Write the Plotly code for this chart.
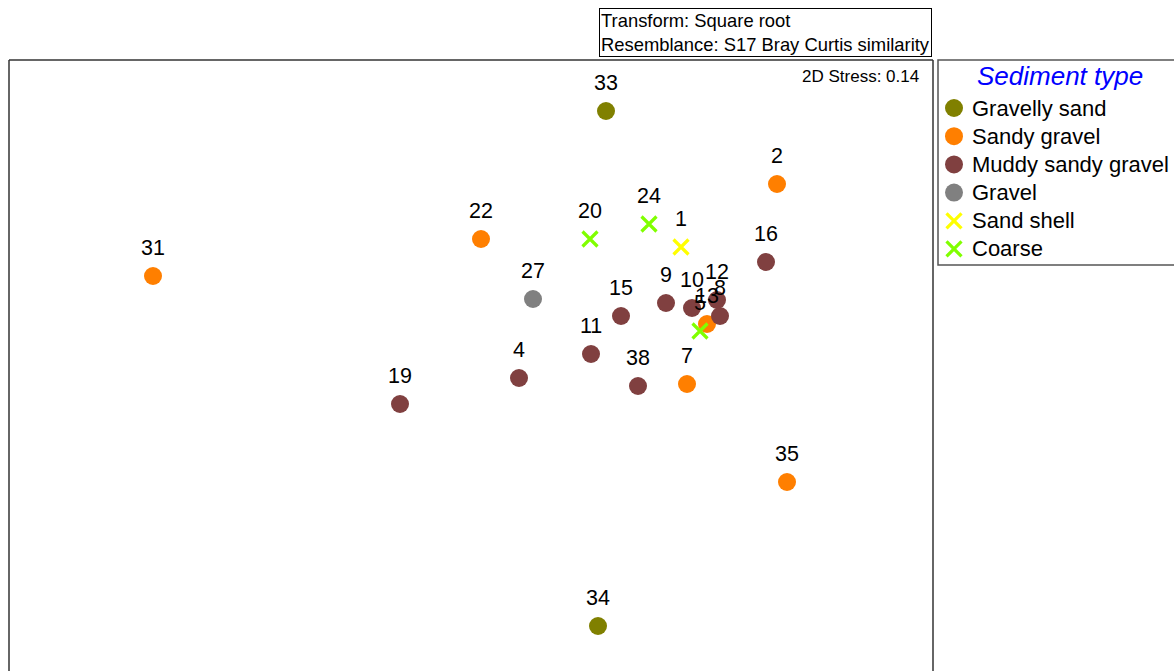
import plotly.graph_objects as go

# nMDS ordination coordinates (arbitrary MDS units) for each station
station_ids = ["33", "34", "2", "22", "31", "7", "35", "13", "16", "9", "10", "12", "8",
               "15", "11", "38", "4", "19", "27", "1", "20", "24", "5"]
mds_x = [1.35, 1.27, 3.06, 0.10, -3.18, 2.16, 3.16, 2.36, 2.95, 1.95, 2.21, 2.46, 2.49,
         1.50, 1.20, 1.67, 0.48, -0.71, 0.62, 2.10, 1.19, 1.78, 2.29]
mds_y = [2.49, -2.66, 1.76, 1.21, 0.84, -0.24, -1.22, 0.36, 0.98, 0.57, 0.52, 0.60, 0.44,
         0.44, 0.06, -0.26, -0.18, -0.44, 0.61, 1.13, 1.21, 1.36, 0.29]
sediment = ["Gravelly sand", "Gravelly sand",
            "Sandy gravel", "Sandy gravel", "Sandy gravel", "Sandy gravel", "Sandy gravel", "Sandy gravel",
            "Muddy sandy gravel", "Muddy sandy gravel", "Muddy sandy gravel", "Muddy sandy gravel",
            "Muddy sandy gravel", "Muddy sandy gravel", "Muddy sandy gravel", "Muddy sandy gravel",
            "Muddy sandy gravel", "Muddy sandy gravel",
            "Gravel", "Sand shell", "Coarse", "Coarse", "Coarse"]

sediment_types = ["Gravelly sand", "Sandy gravel", "Muddy sandy gravel", "Gravel", "Sand shell", "Coarse"]
type_colors = ["#808000", "#FF7F00", "#804040", "#808080", "#FFFF00", "#80FF00"]
type_symbols = ["circle", "circle", "circle", "circle", "x-thin", "x-thin"]

legend_title = "Sediment type"
stress_text = "2D Stress: 0.14"
header_text = "Transform: Square root<br>Resemblance: S17 Bray Curtis similarity"

FONT = "Liberation Sans, Arial"


def marker_style(color, symbol):
    if symbol == "circle":
        return dict(symbol="circle", size=18, color=color, line=dict(width=0))
    return dict(symbol="x-thin", size=15, color=color, line=dict(width=3.2, color=color))


fig = go.Figure()

for name, color, symbol in zip(sediment_types, type_colors, type_symbols):
    idx = [i for i, s in enumerate(sediment) if s == name]
    fig.add_trace(go.Scatter(
        x=[mds_x[i] for i in idx],
        y=[mds_y[i] for i in idx],
        mode="markers",
        name=name,
        marker=marker_style(color, symbol),
        hoverinfo="skip",
        showlegend=False,
    ))

# station labels above each point
for sid, xv, yv in zip(station_ids, mds_x, mds_y):
    fig.add_annotation(x=xv, y=yv, text=sid, showarrow=False, yshift=28,
                       font=dict(family=FONT, size=21.5, color="black"))

# key panel on its own axes: one row per sediment type
rows = list(range(len(sediment_types)))
for r, name, color, symbol in zip(rows, sediment_types, type_colors, type_symbols):
    fig.add_trace(go.Scatter(
        x=[16], y=[r], xaxis="x2", yaxis="y2", mode="markers",
        marker=marker_style(color, symbol), hoverinfo="skip", showlegend=False,
    ))
    fig.add_annotation(x=32, y=r, xref="x2", yref="y2", text=name, showarrow=False,
                       xanchor="left", yanchor="middle",
                       font=dict(family=FONT, size=22, color="black"))
fig.add_annotation(x=122, y=-1.14, xref="x2", yref="y2", text="<i>" + legend_title + "</i>",
                   showarrow=False, xanchor="center", yanchor="middle",
                   font=dict(family=FONT, size=26, color="#0000FF"))

# key panel border
fig.add_shape(type="rect", xref="paper", yref="paper",
              x0=929 / 1165, x1=1.05, y0=406 / 611, y1=1.0,
              line=dict(color="#555555", width=1.5))

fig.add_annotation(xref="paper", yref="paper", x=912 / 1165, y=1 - 16 / 611, text=stress_text,
                   showarrow=False, xanchor="right", yanchor="middle",
                   font=dict(family=FONT, size=17, color="black"))

fig.add_annotation(xref="paper", yref="paper", x=923 / 1165, y=1 + 52 / 611, text=header_text,
                   showarrow=False, xanchor="right", yanchor="top", align="left",
                   bordercolor="black", borderwidth=1, borderpad=1, bgcolor="white",
                   font=dict(family=FONT, size=18.4, color="black"))

# plot frame (left, top, right)
frame = dict(color="#333333", width=1.5)
xr = 924 / 1165
fig.add_shape(type="line", xref="paper", yref="paper", x0=0, x1=0, y0=-0.05, y1=1, line=frame)
fig.add_shape(type="line", xref="paper", yref="paper", x0=0, x1=xr, y0=1, y1=1, line=frame)
fig.add_shape(type="line", xref="paper", yref="paper", x0=xr, x1=xr, y0=-0.05, y1=1, line=frame)

fig.update_layout(
    width=1174, height=671,
    margin=dict(l=9, r=0, t=60, b=0),
    paper_bgcolor="white", plot_bgcolor="white",
    xaxis=dict(domain=[0, xr], range=[-4.62, 4.62], visible=False, fixedrange=True),
    yaxis=dict(range=[-3.11, 3.0], visible=False, fixedrange=True),
    xaxis2=dict(domain=[929 / 1165, 1], range=[0, 236], visible=False, fixedrange=True,
                anchor="y2"),
    yaxis2=dict(domain=[0, 1], range=[19.965, -1.702], visible=False, fixedrange=True,
                anchor="x2"),
    showlegend=False,
)

fig.write_html("out.html")
